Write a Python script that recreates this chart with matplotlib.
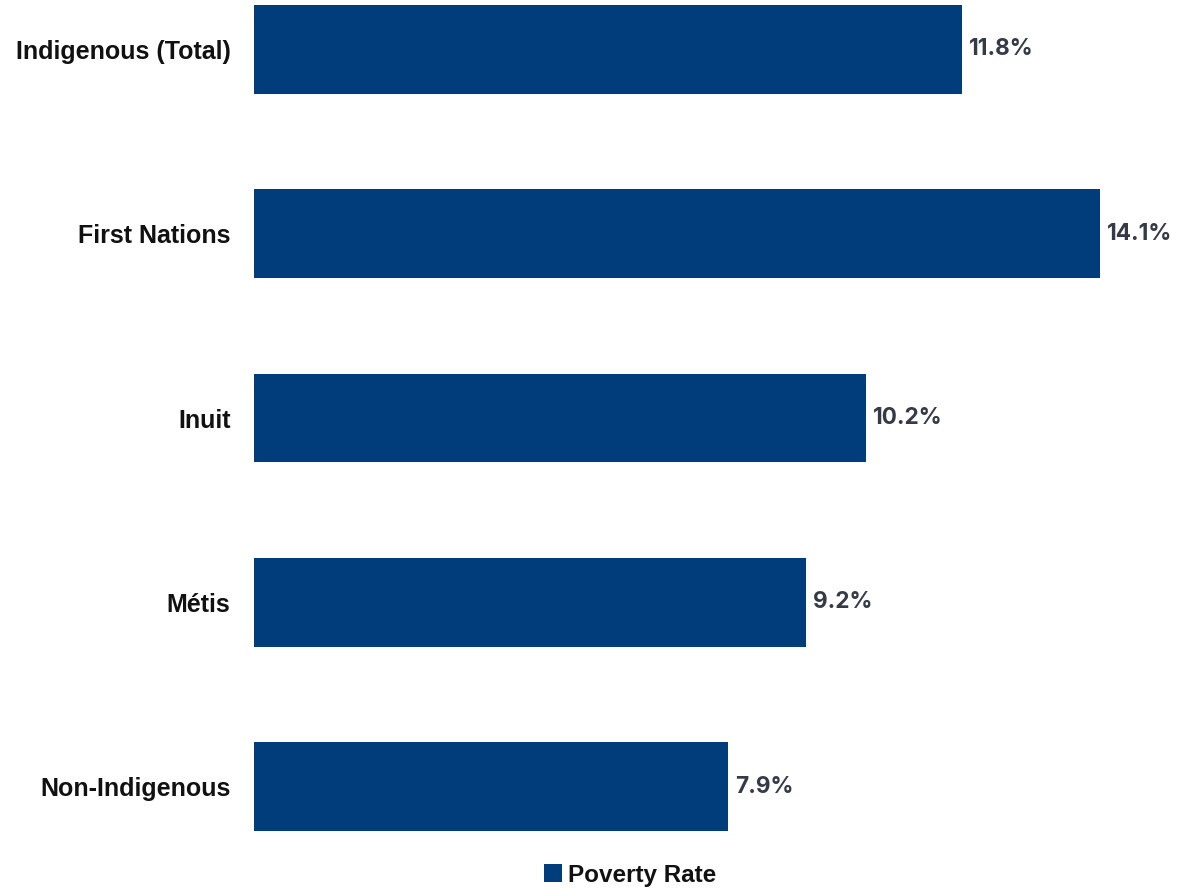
import matplotlib.pyplot as plt

# Poverty rate by identity group (%)
groups = ["Indigenous (Total)", "First Nations", "Inuit", "Métis", "Non-Indigenous"]
rates = [11.8, 14.1, 10.2, 9.2, 7.9]
series_name = "Poverty Rate"

bar_color = "#023d7b"

fig = plt.figure(figsize=(11.78, 8.88), dpi=100)
ax = fig.add_axes([254 / 1178, 1 - 842 / 888, 1 - 254 / 1178, 842 / 888])

bars = ax.barh(range(len(groups)), rates, height=0.48, color=bar_color, label=series_name)
ax.set_xlim(0, (1178 - 254) / 60)
ax.set_ylim(4.3, -0.268)

ax.set_yticks(range(len(groups)))
ax.set_yticklabels(groups, fontsize=18, fontweight="bold", family="Liberation Sans", color="#111111")
ax.tick_params(axis="y", length=0, pad=17)
ax.set_xticks([])
for s in ax.spines.values():
    s.set_visible(False)

# value labels at the bar ends
ax.bar_label(bars, labels=[f"{v}%" for v in rates], padding=5,
             fontsize=16.3, fontweight="bold", color="#343a46", family="Inter")

fig.legend(handles=[bars], labels=[series_name], loc="center", bbox_to_anchor=(630 / 1178, 1 - 875 / 888),
           frameon=False, handlelength=0.75, handleheight=0.75, handletextpad=0.25,
           prop={"family": "Liberation Sans", "weight": "bold", "size": 17.5})
for t in fig.legends[0].get_texts():
    t.set_color("#111111")

fig.savefig("out.png", dpi=100)
